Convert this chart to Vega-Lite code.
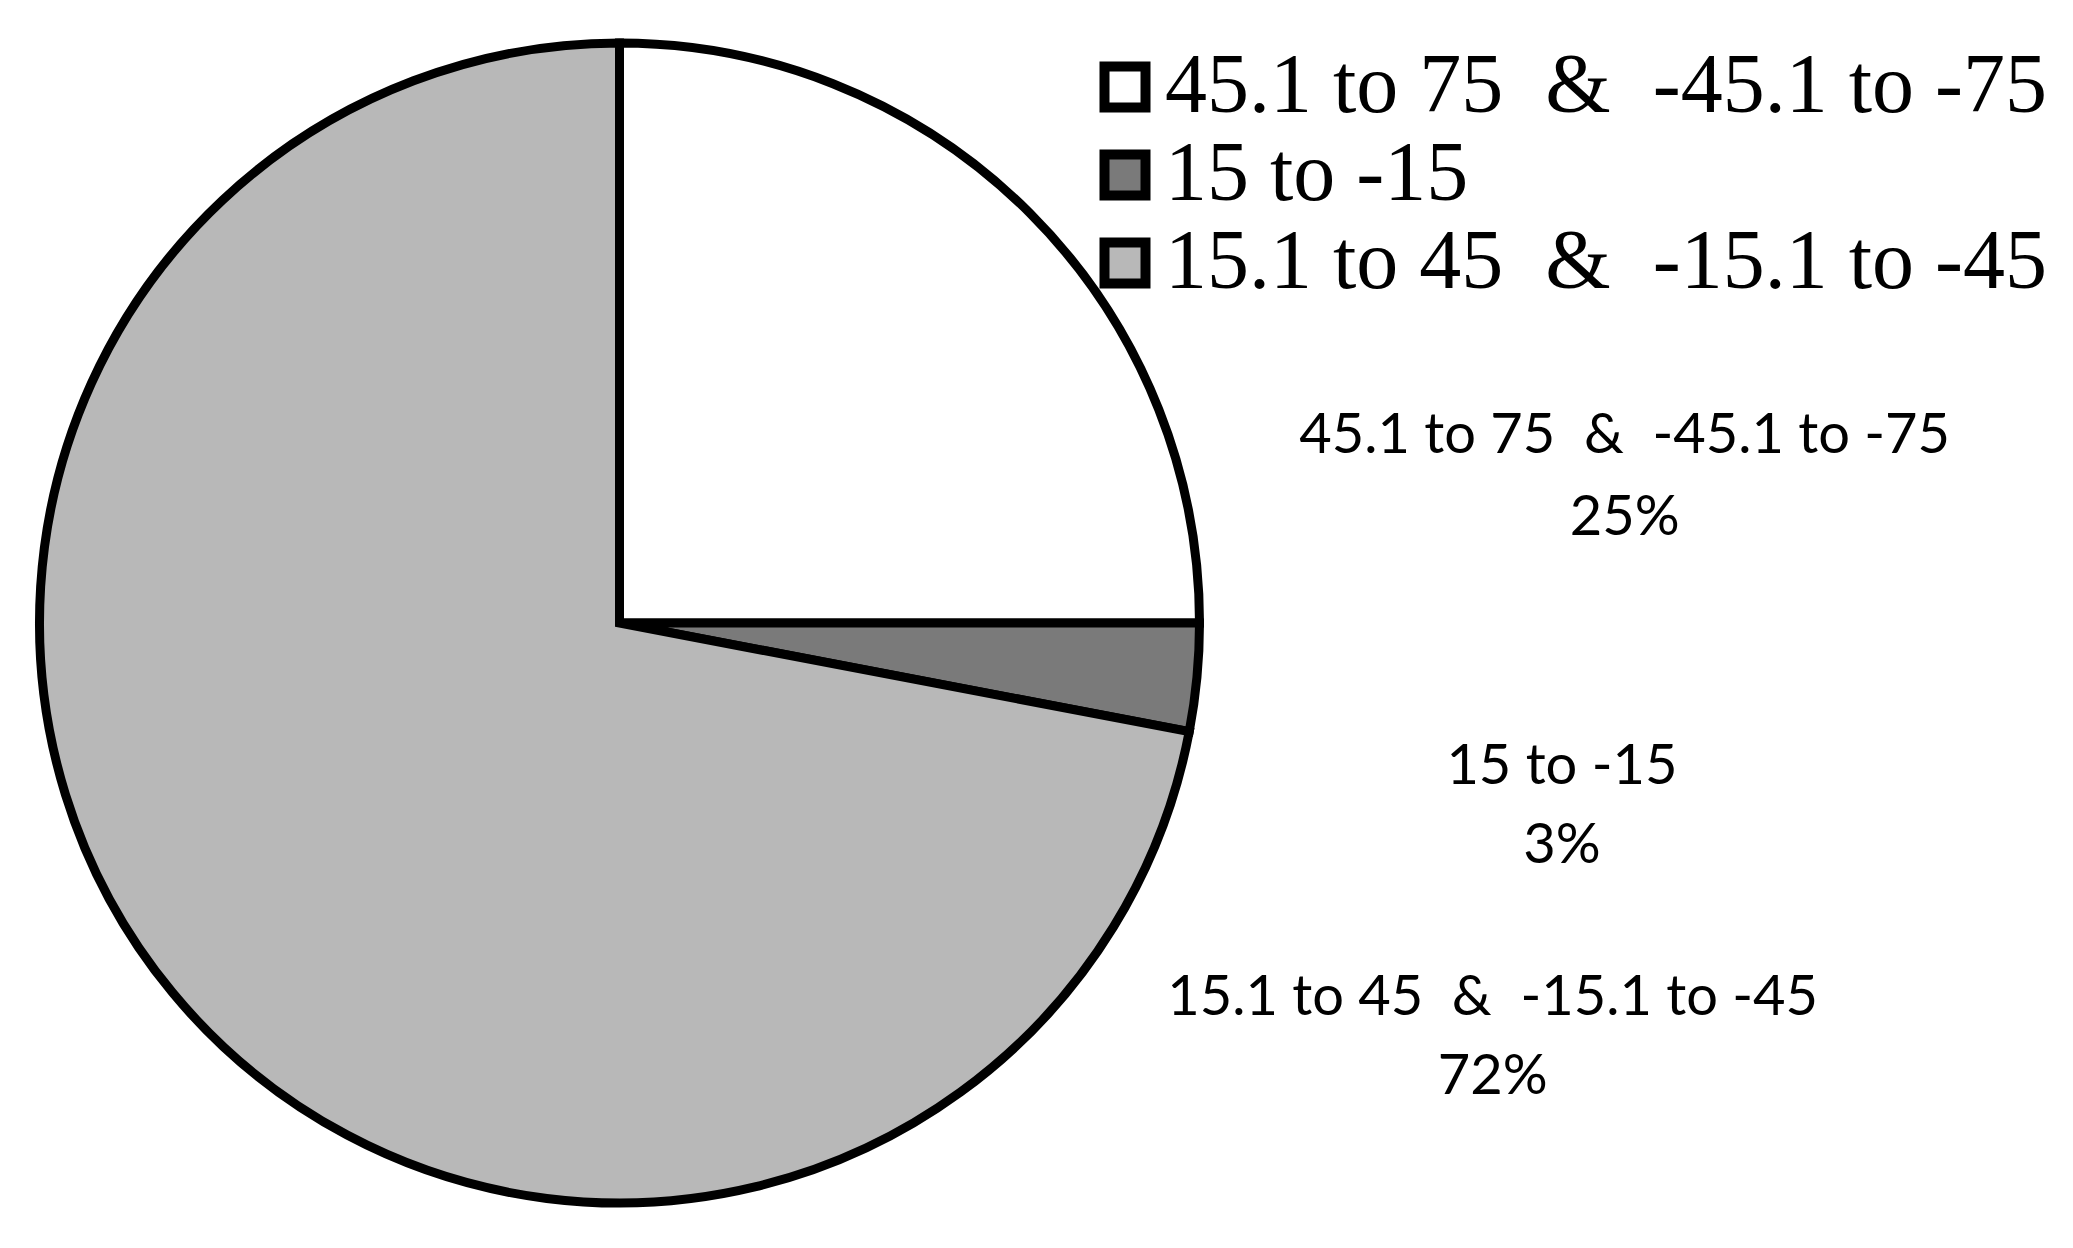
{
  "$schema": "https://vega.github.io/schema/vega-lite/v6.json",
  "width": 1239,
  "height": 1246,
  "padding": 0,
  "background": "white",
  "config": {"view": {"stroke": null}},
  "data": {
    "values": [
      {"category": "45.1 to 75\u00a0 &\u00a0 -45.1 to -75", "share": 0.25, "order": 1},
      {"category": "15 to -15", "share": 0.03, "order": 2},
      {"category": "15.1 to 45\u00a0 &\u00a0 -15.1 to -45", "share": 0.72, "order": 3}
    ]
  },
  "encoding": {
    "theta": {"field": "share", "type": "quantitative", "stack": true},
    "order": {"field": "order", "type": "quantitative"}
  },
  "layer": [
    {
      "mark": {"type": "arc", "outerRadius": 580, "stroke": "black", "strokeWidth": 9},
      "encoding": {
        "fill": {
          "field": "category",
          "type": "nominal",
          "scale": {
            "domain": ["45.1 to 75\u00a0 &\u00a0 -45.1 to -75", "15 to -15", "15.1 to 45\u00a0 &\u00a0 -15.1 to -45"],
            "range": ["#ffffff", "#7a7a7a", "#b8b8b8"]
          },
          "legend": {
            "title": null,
            "orient": "none",
            "legendX": 1083,
            "legendY": 45,
            "symbolType": "square",
            "symbolSize": 1681,
            "symbolStrokeColor": "black",
            "symbolStrokeWidth": 10,
            "symbolOpacity": 1,
            "labelFont": "Liberation Serif",
            "labelFontSize": 84,
            "labelColor": "black",
            "labelLimit": 0,
            "labelOffset": -2,
            "rowPadding": 4
          }
        }
      }
    },
    {
      "mark": {"type": "text", "radius": 580, "dx": 595, "dy": 223, "font": "Lato", "fontSize": 56, "align": "center", "baseline": "middle", "color": "black"},
      "encoding": {
        "text": {"field": "category"},
        "opacity": {"condition": {"test": "datum.order === 1", "value": 1}, "value": 0}
      }
    },
    {
      "mark": {"type": "text", "radius": 580, "dx": 595, "dy": 305, "font": "Lato", "fontSize": 56, "align": "center", "baseline": "middle", "color": "black"},
      "encoding": {
        "text": {"field": "share", "type": "quantitative", "format": ".0%"},
        "opacity": {"condition": {"test": "datum.order === 1", "value": 1}, "value": 0}
      }
    },
    {
      "mark": {"type": "text", "radius": 580, "dx": 365, "dy": 89, "font": "Lato", "fontSize": 56, "align": "center", "baseline": "middle", "color": "black"},
      "encoding": {
        "text": {"field": "category"},
        "opacity": {"condition": {"test": "datum.order === 2", "value": 1}, "value": 0}
      }
    },
    {
      "mark": {"type": "text", "radius": 580, "dx": 365, "dy": 168, "font": "Lato", "fontSize": 56, "align": "center", "baseline": "middle", "color": "black"},
      "encoding": {
        "text": {"field": "share", "type": "quantitative", "format": ".0%"},
        "opacity": {"condition": {"test": "datum.order === 2", "value": 1}, "value": 0}
      }
    },
    {
      "mark": {"type": "text", "radius": 580, "dx": 1320, "dy": 5, "font": "Lato", "fontSize": 56, "align": "center", "baseline": "middle", "color": "black"},
      "encoding": {
        "text": {"field": "category"},
        "opacity": {"condition": {"test": "datum.order === 3", "value": 1}, "value": 0}
      }
    },
    {
      "mark": {"type": "text", "radius": 580, "dx": 1320, "dy": 84, "font": "Lato", "fontSize": 56, "align": "center", "baseline": "middle", "color": "black"},
      "encoding": {
        "text": {"field": "share", "type": "quantitative", "format": ".0%"},
        "opacity": {"condition": {"test": "datum.order === 3", "value": 1}, "value": 0}
      }
    }
  ]
}
